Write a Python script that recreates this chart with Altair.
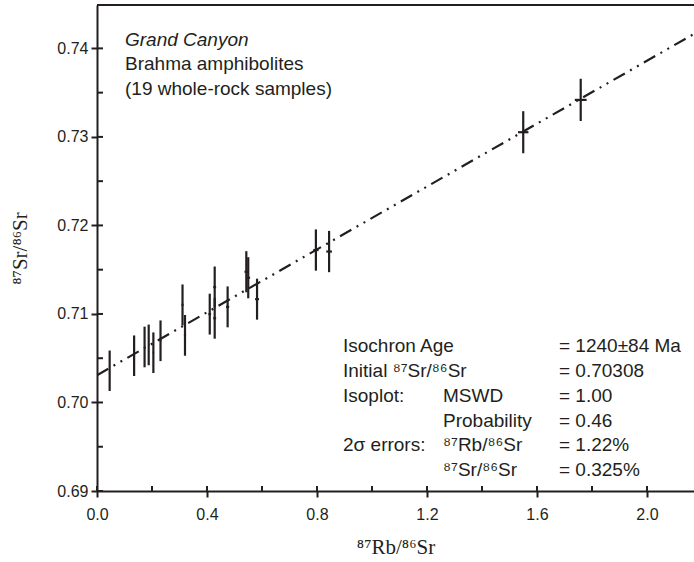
import altair as alt
import pandas as pd

# ---- data ----
rb_sr = [0.046, 0.135, 0.173, 0.188, 0.205, 0.231, 0.311, 0.320, 0.410, 0.428,
         0.428, 0.475, 0.543, 0.550, 0.582, 0.796, 0.844, 1.550, 1.759]
sr_sr = [0.70358, 0.70528, 0.70627, 0.70650, 0.70562, 0.70697, 0.71102, 0.70758,
         0.70998, 0.71304, 0.70951, 0.71080, 0.71477, 0.71409, 0.71167, 0.71722,
         0.71705, 0.73053, 0.73418]
rb_err_pct = 1.22      # 2 sigma, %
sr_err_pct = 0.325     # 2 sigma, %
initial_ratio = 0.70308
isochron_slope = 0.01776
x_ticks = [0.0, 0.4, 0.8, 1.2, 1.6, 2.0]
x_minor = [0.2, 0.6, 1.0, 1.4, 1.8]
y_ticks = [0.69, 0.70, 0.71, 0.72, 0.73, 0.74]
y_minor = [0.695, 0.705, 0.715, 0.725, 0.735]
x_domain = [0.0, 2.171]
y_domain = [0.69, 0.7449]

W, H = 597, 486
SANS = "Liberation Sans"
SERIF = "Liberation Serif"
INK = "#231f20"

pts = pd.DataFrame({"x": rb_sr, "y": sr_sr})
line_df = pd.DataFrame({"x": x_domain})

xs = alt.Scale(domain=x_domain, nice=False, zero=False)
ys = alt.Scale(domain=y_domain, nice=False, zero=False)

x_axis = alt.Axis(values=x_ticks, format=".1f", grid=False, domainColor=INK, domainWidth=2,
                  tickColor=INK, tickWidth=2, tickSize=6, labelFont=SANS, labelFontSize=16,
                  labelColor=INK, labelPadding=9, labelFlush=False, title="⁸⁷Rb/⁸⁶Sr",
                  titleFont=SERIF, titleFontSize=21, titleFontWeight="normal",
                  titleColor=INK, titlePadding=14)
y_axis = alt.Axis(values=y_ticks, format=".2f", grid=False, domainColor=INK, domainWidth=2,
                  tickColor=INK, tickWidth=2, tickSize=6, labelFont=SANS, labelFontSize=16,
                  labelColor=INK, labelPadding=3, labelFlush=False, title="⁸⁷Sr/⁸⁶Sr",
                  titleFont=SERIF, titleFontSize=21, titleFontWeight="normal",
                  titleColor=INK, titleX=-67)

base = alt.Chart(pts)

ybars = base.mark_rule(color=INK, strokeWidth=2.2).transform_calculate(
    ylo=f"datum.y*(1-{sr_err_pct}/100)", yhi=f"datum.y*(1+{sr_err_pct}/100)"
).encode(x=alt.X("x:Q", scale=xs, axis=x_axis), y=alt.Y("ylo:Q", scale=ys, axis=y_axis), y2="yhi:Q")

xbars = base.mark_rule(color=INK, strokeWidth=2.2).transform_calculate(
    xlo=f"datum.x*(1-{rb_err_pct}/100)", xhi=f"datum.x*(1+{rb_err_pct}/100)"
).encode(x=alt.X("xlo:Q", scale=xs), x2="xhi:Q", y=alt.Y("y:Q", scale=ys))

iso = alt.Chart(line_df).mark_line(color=INK, strokeWidth=2.2, strokeDash=[13, 6, 2, 6, 2, 6],
                                   clip=True).transform_calculate(
    y=f"{initial_ratio}+{isochron_slope}*datum.x"
).encode(x=alt.X("x:Q", scale=xs), y=alt.Y("y:Q", scale=ys))

# inner tick marks
xmaj_in = alt.Chart(pd.DataFrame({"v": x_ticks})).mark_rule(color=INK, strokeWidth=2).encode(
    x=alt.X("v:Q", scale=xs), y=alt.value(H), y2=alt.value(H - 5))
xmin_in = alt.Chart(pd.DataFrame({"v": x_minor})).mark_rule(color=INK, strokeWidth=2).encode(
    x=alt.X("v:Q", scale=xs), y=alt.value(H), y2=alt.value(H - 5))
ymaj_in = alt.Chart(pd.DataFrame({"v": y_ticks})).mark_rule(color=INK, strokeWidth=2).encode(
    y=alt.Y("v:Q", scale=ys), x=alt.value(0), x2=alt.value(6))
ymin_in = alt.Chart(pd.DataFrame({"v": y_minor})).mark_rule(color=INK, strokeWidth=2).encode(
    y=alt.Y("v:Q", scale=ys), x=alt.value(0), x2=alt.value(6))

top_border = alt.Chart(pd.DataFrame({"a": [0]})).mark_rule(color=INK, strokeWidth=2).encode(
    x=alt.value(0), x2=alt.value(W), y=alt.value(0))

def txt(s, x, y, italic=False, size=19):
    return alt.Chart(pd.DataFrame({"t": [s]})).mark_text(
        align="left", baseline="alphabetic", font=SANS, fontSize=size, color=INK,
        fontStyle="italic" if italic else "normal").encode(
        text="t:N", x=alt.value(x), y=alt.value(y))

c1, c2, c3 = 246, 346, 462
rows = [347, 372, 397, 421.7, 446.3, 471]
labels = [
    txt("Grand Canyon", 28, 40.7, italic=True),
    txt("Brahma amphibolites", 28, 65.2),
    txt("(19 whole-rock samples)", 28, 89.7),
    txt("Isochron Age", c1, rows[0]), txt("= 1240±84 Ma", c3, rows[0]),
    txt("Initial ⁸⁷Sr/⁸⁶Sr", c1, rows[1]), txt("= 0.70308", c3, rows[1]),
    txt("Isoplot:", c1, rows[2]), txt("MSWD", c2, rows[2]), txt("= 1.00", c3, rows[2]),
    txt("Probability", c2, rows[3]), txt("= 0.46", c3, rows[3]),
    txt("2σ errors:", c1, rows[4]), txt("⁸⁷Rb/⁸⁶Sr", c2, rows[4]), txt("= 1.22%", c3, rows[4]),
    txt("⁸⁷Sr/⁸⁶Sr", c2, rows[5]), txt("= 0.325%", c3, rows[5]),
]

chart = alt.layer(ybars, xbars, iso, xmaj_in, xmin_in, ymaj_in, ymin_in, top_border, *labels).properties(
    width=W, height=H,
    autosize=alt.AutoSizeParams(type="none"),
    padding={"left": 97, "top": 5, "right": 0, "bottom": 71},
    background="white",
).configure_view(stroke=None)

chart.save("out.html", embed_options={"renderer": "svg", "actions": False})
